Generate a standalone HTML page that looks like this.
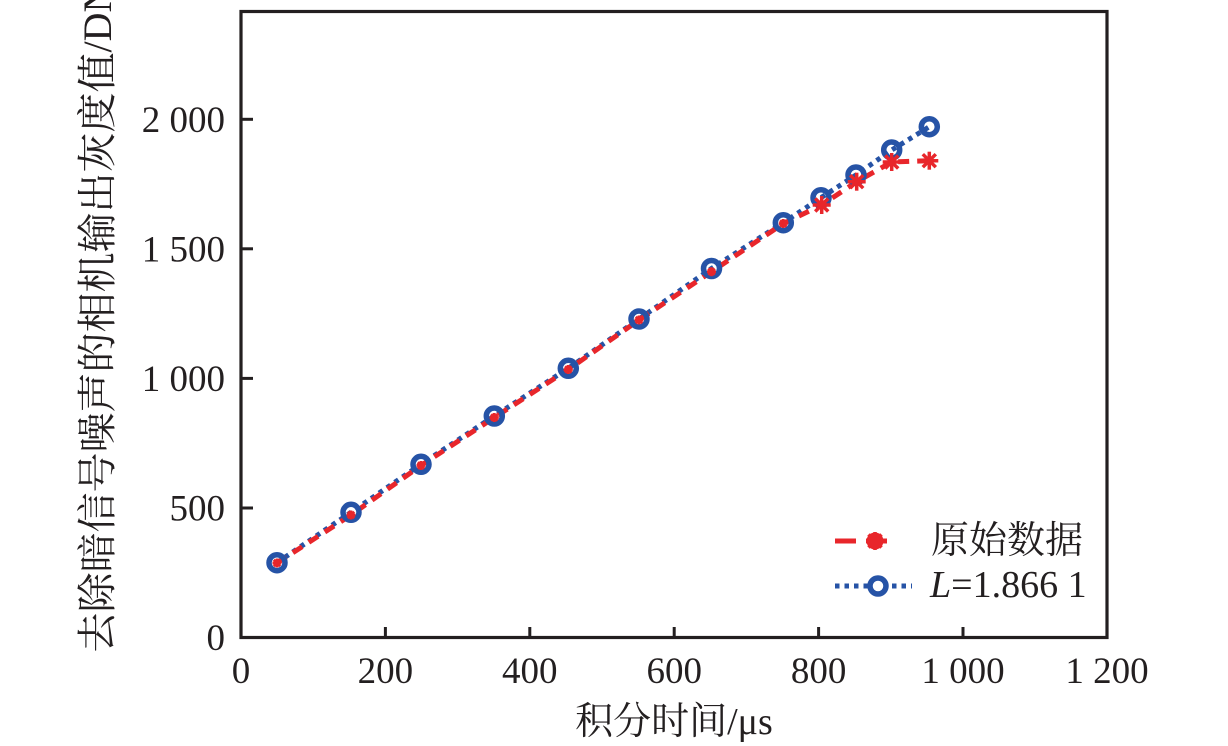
<!DOCTYPE html>
<html>
<head>
<meta charset="utf-8">
<style>
html,body{margin:0;padding:0;background:#fff;}
svg{display:block;}
.t{font-family:"Liberation Serif","Noto Serif CJK SC",serif;fill:#231f20;}
</style>
</head>
<body>
<svg width="1228" height="746" viewBox="0 0 1228 746" xmlns="http://www.w3.org/2000/svg">
<rect width="1228" height="746" fill="#fff"/>
<!-- frame -->
<rect x="241" y="11.5" width="866" height="626" fill="none" stroke="#231f20" stroke-width="3.2"/>
<!-- x ticks -->
<g stroke="#231f20" stroke-width="3">
<line x1="385.4" y1="637" x2="385.4" y2="627"/>
<line x1="529.8" y1="637" x2="529.8" y2="627"/>
<line x1="674.2" y1="637" x2="674.2" y2="627"/>
<line x1="818.6" y1="637" x2="818.6" y2="627"/>
<line x1="963" y1="637" x2="963" y2="627"/>
<!-- y ticks -->
<line x1="242" y1="508" x2="253" y2="508"/>
<line x1="242" y1="378.4" x2="253" y2="378.4"/>
<line x1="242" y1="248.8" x2="253" y2="248.8"/>
<line x1="242" y1="119.3" x2="253" y2="119.3"/>
</g>
<!-- x tick labels -->
<g class="t" font-size="37" text-anchor="middle">
<text x="241" y="683">0</text>
<text x="385.4" y="683">200</text>
<text x="529.8" y="683">400</text>
<text x="674.2" y="683">600</text>
<text x="818.6" y="683">800</text>
<text x="963" y="683">1 000</text>
<text x="1107" y="683">1 200</text>
</g>
<!-- y tick labels -->
<g class="t" font-size="37" text-anchor="end">
<text x="225" y="650">0</text>
<text x="225" y="520.5">500</text>
<text x="225" y="391">1 000</text>
<text x="225" y="261.5">1 500</text>
<text x="225" y="132">2 000</text>
</g>
<!-- axis titles -->
<text class="t" font-size="38" x="674" y="734" text-anchor="middle">积分时间/μs</text>
<text class="t" font-size="40" transform="translate(111,318) rotate(-90)" text-anchor="middle">去除暗信号噪声的相机输出灰度值/DN</text>

<!-- blue dotted line -->
<polyline fill="none" stroke="#2653a6" stroke-width="5" stroke-dasharray="4.5 5"
 points="277,562.7 351,512.3 421,464.3 494.3,416 568.3,368.3 639,319 711.5,268.5 783.3,222.7 821,197.7 856,175 891.7,150 929.3,126.7"/>
<!-- red dashed line -->
<polyline fill="none" stroke="#e8262b" stroke-width="5" stroke-dasharray="11 8"
 points="277,563 351,515 421,465.5 494.3,417.5 568.3,369.5 639,320 711.5,271.7 783.3,223.5 821.7,205 856.7,181.7 891.7,162 929.3,160.7"/>

<!-- blue circles -->
<g fill="none" stroke="#2653a6" stroke-width="5.5">
<circle cx="277" cy="562.7" r="8"/>
<circle cx="351" cy="512.3" r="8"/>
<circle cx="421" cy="464.3" r="8"/>
<circle cx="494.3" cy="416" r="8"/>
<circle cx="568.3" cy="368.3" r="8"/>
<circle cx="639" cy="319" r="8"/>
<circle cx="711.5" cy="268.5" r="8"/>
<circle cx="783.3" cy="222.7" r="8"/>
<circle cx="821" cy="197.7" r="8"/>
<circle cx="856" cy="175" r="8"/>
<circle cx="891.7" cy="150" r="8"/>
<circle cx="929.3" cy="126.7" r="8"/>
</g>

<!-- red stars -->
<defs>
<g id="st" stroke="#e8262b" stroke-width="3.5">
<line x1="-9" y1="0" x2="9" y2="0"/>
<line x1="0" y1="-9" x2="0" y2="9"/>
<line x1="-6.5" y1="-6.5" x2="6.5" y2="6.5"/>
<line x1="-6.5" y1="6.5" x2="6.5" y2="-6.5"/>
</g>
<g id="sts" stroke="#e8262b" stroke-width="2.8">
<line x1="-4.5" y1="0" x2="4.5" y2="0"/>
<line x1="0" y1="-4.5" x2="0" y2="4.5"/>
<line x1="-3.2" y1="-3.2" x2="3.2" y2="3.2"/>
<line x1="-3.2" y1="3.2" x2="3.2" y2="-3.2"/>
</g>
</defs>
<use href="#sts" x="277" y="563"/>
<use href="#sts" x="351" y="515"/>
<use href="#sts" x="421" y="465.5"/>
<use href="#sts" x="494.3" y="417.5"/>
<use href="#sts" x="568.3" y="369.5"/>
<use href="#sts" x="639" y="320"/>
<use href="#sts" x="711.5" y="271.7"/>
<use href="#sts" x="783.3" y="223.5"/>
<use href="#st" x="821.7" y="205"/>
<use href="#st" x="856.7" y="181.7"/>
<use href="#st" x="891.7" y="162"/>
<use href="#st" x="929.3" y="160.7"/>

<!-- legend -->
<line x1="835" y1="541" x2="897" y2="541" stroke="#e8262b" stroke-width="5" stroke-dasharray="21 10"/>
<circle cx="875" cy="541" r="8.5" fill="#e8262b"/>
<use href="#st" x="875" y="541"/>
<text class="t" font-size="38" x="931" y="553">原始数据</text>

<line x1="835" y1="586" x2="912" y2="586" stroke="#2653a6" stroke-width="5" stroke-dasharray="4.5 5"/>
<circle cx="878" cy="586" r="8" fill="#fff" stroke="#2653a6" stroke-width="5.5"/>
<text class="t" font-size="38" x="930" y="597"><tspan font-style="italic">L</tspan>=1.866 1</text>
</svg>
</body>
</html>
